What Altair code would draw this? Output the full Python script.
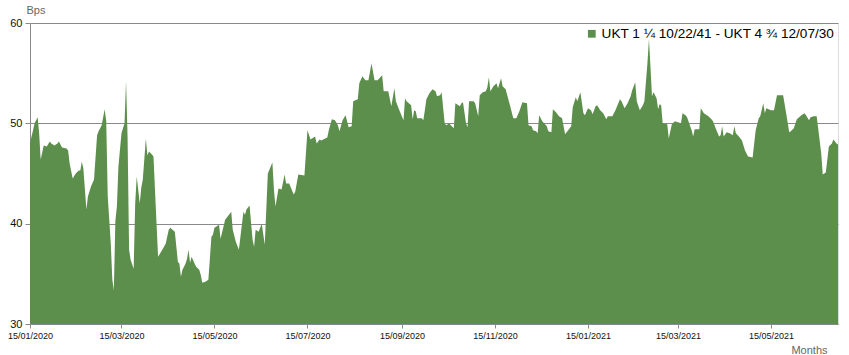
import altair as alt
import pandas as pd

series_name = "UKT 1 ¼ 10/22/41 - UKT 4 ¾ 12/07/30"

dates = [
    "2020-01-15", "2020-01-16", "2020-01-17", "2020-01-18", "2020-01-20", "2020-01-21", "2020-01-22", "2020-01-24",
    "2020-01-26", "2020-01-28", "2020-01-29", "2020-01-31", "2020-02-02", "2020-02-03", "2020-02-05", "2020-02-08",
    "2020-02-09", "2020-02-10", "2020-02-12", "2020-02-14", "2020-02-16", "2020-02-17", "2020-02-18", "2020-02-19",
    "2020-02-21", "2020-02-22", "2020-02-24", "2020-02-26", "2020-02-28", "2020-02-29", "2020-03-02", "2020-03-04",
    "2020-03-05", "2020-03-06", "2020-03-08", "2020-03-09", "2020-03-10", "2020-03-11", "2020-03-12", "2020-03-13",
    "2020-03-15", "2020-03-17", "2020-03-18", "2020-03-19", "2020-03-20", "2020-03-21", "2020-03-23", "2020-03-24",
    "2020-03-25", "2020-03-27", "2020-03-28", "2020-03-29", "2020-03-31", "2020-04-01", "2020-04-02", "2020-04-04",
    "2020-04-05", "2020-04-07", "2020-04-08", "2020-04-10", "2020-04-13", "2020-04-15", "2020-04-16", "2020-04-19",
    "2020-04-21", "2020-04-22", "2020-04-23", "2020-04-24", "2020-04-26", "2020-04-27", "2020-04-28", "2020-04-29",
    "2020-04-30", "2020-05-02", "2020-05-03", "2020-05-05", "2020-05-06", "2020-05-07", "2020-05-09", "2020-05-11",
    "2020-05-13", "2020-05-14", "2020-05-15", "2020-05-18", "2020-05-19", "2020-05-22", "2020-05-24", "2020-05-26",
    "2020-05-27", "2020-05-29", "2020-05-31", "2020-06-03", "2020-06-04", "2020-06-05", "2020-06-07", "2020-06-09",
    "2020-06-10", "2020-06-11", "2020-06-13", "2020-06-15", "2020-06-17", "2020-06-19", "2020-06-22", "2020-06-23",
    "2020-06-24", "2020-06-26", "2020-06-28", "2020-06-30", "2020-07-01", "2020-07-03", "2020-07-06", "2020-07-07",
    "2020-07-09", "2020-07-13", "2020-07-15", "2020-07-17", "2020-07-20", "2020-07-21", "2020-07-23", "2020-07-24",
    "2020-07-28", "2020-07-29", "2020-07-31", "2020-08-02", "2020-08-04", "2020-08-05", "2020-08-07", "2020-08-09",
    "2020-08-11", "2020-08-13", "2020-08-14", "2020-08-17", "2020-08-18", "2020-08-20", "2020-08-22", "2020-08-24",
    "2020-08-26", "2020-08-28", "2020-08-30", "2020-09-02", "2020-09-03", "2020-09-06", "2020-09-08", "2020-09-10",
    "2020-09-11", "2020-09-13", "2020-09-16", "2020-09-17", "2020-09-18", "2020-09-21", "2020-09-22", "2020-09-23",
    "2020-09-24", "2020-09-25", "2020-09-28", "2020-09-29", "2020-09-30", "2020-10-01", "2020-10-03", "2020-10-05",
    "2020-10-07", "2020-10-08", "2020-10-10", "2020-10-11", "2020-10-13", "2020-10-14", "2020-10-16", "2020-10-17",
    "2020-10-19", "2020-10-20", "2020-10-22", "2020-10-23", "2020-10-24", "2020-10-25", "2020-10-27", "2020-10-28",
    "2020-10-29", "2020-11-01", "2020-11-02", "2020-11-04", "2020-11-05", "2020-11-07", "2020-11-09", "2020-11-10",
    "2020-11-11", "2020-11-12", "2020-11-14", "2020-11-16", "2020-11-17", "2020-11-19", "2020-11-20", "2020-11-22",
    "2020-11-25", "2020-11-27", "2020-11-29", "2020-12-01", "2020-12-03", "2020-12-06", "2020-12-07", "2020-12-09",
    "2020-12-10", "2020-12-12", "2020-12-13", "2020-12-14", "2020-12-16", "2020-12-19", "2020-12-20", "2020-12-22",
    "2020-12-23", "2020-12-25", "2020-12-27", "2020-12-29", "2020-12-31", "2021-01-02", "2021-01-04", "2021-01-05",
    "2021-01-07", "2021-01-08", "2021-01-10", "2021-01-12", "2021-01-13", "2021-01-15", "2021-01-17", "2021-01-18",
    "2021-01-20", "2021-01-21", "2021-01-23", "2021-01-25", "2021-01-27", "2021-01-28", "2021-01-31", "2021-02-02",
    "2021-02-05", "2021-02-06", "2021-02-08", "2021-02-10", "2021-02-12", "2021-02-13", "2021-02-15", "2021-02-16",
    "2021-02-18", "2021-02-20", "2021-02-21", "2021-02-23", "2021-02-24", "2021-02-25", "2021-02-26", "2021-02-27",
    "2021-03-01", "2021-03-02", "2021-03-03", "2021-03-04", "2021-03-05", "2021-03-08", "2021-03-09", "2021-03-11",
    "2021-03-13", "2021-03-15", "2021-03-17", "2021-03-18", "2021-03-20", "2021-03-21", "2021-03-24", "2021-03-25",
    "2021-03-26", "2021-03-29", "2021-03-30", "2021-04-01", "2021-04-04", "2021-04-06", "2021-04-07", "2021-04-09",
    "2021-04-11", "2021-04-12", "2021-04-13", "2021-04-14", "2021-04-16", "2021-04-18", "2021-04-20", "2021-04-21",
    "2021-04-22", "2021-04-24", "2021-04-26", "2021-04-28", "2021-04-30", "2021-05-03", "2021-05-05", "2021-05-07",
    "2021-05-08", "2021-05-10", "2021-05-11", "2021-05-12", "2021-05-15", "2021-05-17", "2021-05-19", "2021-05-23",
    "2021-05-25", "2021-05-27", "2021-05-28", "2021-05-30", "2021-06-01", "2021-06-04", "2021-06-06", "2021-06-07",
    "2021-06-09", "2021-06-10", "2021-06-12", "2021-06-14", "2021-06-15", "2021-06-17", "2021-06-18", "2021-06-20",
    "2021-06-22", "2021-06-24", "2021-06-25", "2021-06-27", "2021-06-28",
]

bps = [
    48.0, 48.7, 49.3, 50.0, 50.6, 49.0, 46.4, 47.8,
    47.7, 48.2, 48.0, 47.8, 48.0, 48.2, 47.6, 47.5,
    47.3, 46.0, 44.5, 45.0, 45.3, 45.3, 46.2, 45.5,
    41.4, 42.7, 43.7, 44.4, 48.8, 49.2, 49.8, 51.4,
    50.2, 42.7, 38.0, 34.4, 33.4, 40.3, 41.7, 45.7,
    49.0, 50.0, 54.2, 48.7, 37.4, 36.4, 35.5, 42.0,
    44.7, 42.0, 43.6, 44.4, 48.5, 46.8, 47.2, 46.9,
    46.7, 40.0, 36.7, 37.2, 38.0, 39.4, 39.6, 39.2,
    36.2, 36.0, 34.7, 35.4, 36.0, 36.5, 37.4, 36.1,
    36.7, 36.0, 35.7, 35.4, 34.9, 34.1, 34.2, 34.4,
    38.7, 38.9, 39.6, 39.9, 38.5, 40.4, 40.8, 41.2,
    39.4, 38.2, 37.4, 41.2, 40.9, 41.4, 41.8, 38.4,
    37.7, 39.4, 39.2, 40.0, 37.9, 45.0, 46.1, 43.4,
    41.7, 43.5, 43.4, 44.9, 44.0, 44.0, 42.9, 43.2,
    44.9, 44.8, 49.3, 48.4, 48.7, 48.0, 48.4, 48.3,
    48.6, 49.3, 50.4, 50.3, 49.8, 49.2, 50.3, 50.8,
    49.6, 49.7, 52.2, 52.4, 54.0, 54.7, 54.3, 54.3,
    56.0, 54.3, 54.3, 54.8, 53.2, 53.2, 51.7, 53.5,
    52.2, 51.4, 50.3, 52.5, 52.2, 51.8, 50.4, 51.3,
    51.2, 50.5, 50.5, 50.3, 51.3, 52.4, 53.0, 53.4,
    53.2, 52.7, 52.8, 53.1, 50.0, 49.8, 50.0, 49.8,
    49.5, 52.0, 51.8, 51.7, 52.0, 52.1, 50.0, 49.6,
    52.2, 52.2, 52.0, 50.7, 52.8, 53.1, 53.2, 53.6,
    54.6, 53.2, 53.7, 54.0, 53.5, 54.5, 53.7, 53.4,
    51.7, 50.5, 50.5, 51.2, 52.1, 52.0, 49.8, 49.7,
    49.3, 49.2, 49.0, 50.8, 50.2, 49.7, 49.2, 49.1,
    51.4, 51.1, 50.7, 50.5, 48.9, 49.3, 49.7, 51.6,
    52.6, 52.2, 53.1, 51.0, 50.8, 51.5, 51.3, 50.9,
    51.7, 51.8, 51.3, 51.0, 50.4, 50.7, 50.7, 51.3,
    52.4, 52.2, 51.5, 52.0, 52.7, 53.3, 54.1, 52.2,
    51.3, 51.8, 52.2, 56.0, 58.4, 55.6, 52.7, 53.1,
    52.5, 51.4, 51.9, 51.8, 50.0, 49.9, 48.5, 49.9,
    50.2, 50.1, 50.0, 51.0, 50.8, 50.6, 49.3, 48.7,
    49.4, 49.4, 51.5, 51.0, 50.7, 50.4, 50.2, 49.4,
    48.7, 48.8, 49.7, 48.7, 49.1, 49.0, 48.8, 49.7,
    49.0, 48.7, 48.3, 47.3, 46.7, 46.6, 49.3, 50.5,
    50.7, 52.0, 51.0, 51.5, 51.3, 51.3, 52.8, 52.8,
    51.0, 49.1, 49.2, 49.5, 50.4, 50.8, 51.0, 50.8,
    50.3, 50.6, 50.7, 50.7, 49.5, 47.0, 44.9, 45.1,
    47.7, 48.0, 48.4, 48.0, 47.9,
]

tick_dates = [(2020, 1), (2020, 3), (2020, 5), (2020, 7), (2020, 9), (2020, 11),
              (2021, 1), (2021, 3), (2021, 5)]
y_ticks = [30, 40, 50, 60]

df = pd.DataFrame({"date": dates, "bps": bps, "series": series_name})

FONT = "Liberation Sans"
GREEN = "#5c8f4b"
GRID = "#8a8a8a"

x_enc = alt.X(
    "date:T",
    scale=alt.Scale(type="utc", nice=False,
                    domain=[alt.DateTime(year=2020, month=1, date=15, utc=True),
                            alt.DateTime(year=2021, month=6, date=28, utc=True)]),
    axis=alt.Axis(
        values=[alt.DateTime(year=y, month=m, date=15, utc=True) for y, m in tick_dates],
        labelExpr="utcFormat(datum.value, '%d/%m/%Y')",
        labelFont=FONT, labelFontSize=9, labelColor="#111111", labelPadding=3,
        labelFlush=False, labelOverlap=False,
        tickSize=4, tickColor=GRID, domainColor=GRID, grid=False,
        title="Months", titleFont=FONT, titleFontSize=11, titleFontWeight="normal",
        titleColor="#666666", titleAnchor="end", titleAlign="right",
        titleX=797, titleY=29, titleBaseline="alphabetic",
    ),
)

y_enc = alt.Y(
    "bps:Q",
    scale=alt.Scale(domain=[30, 60], nice=False, zero=False),
    axis=alt.Axis(
        values=y_ticks, labelFont=FONT, labelFontSize=11, labelColor="#111111",
        labelPadding=3, tickSize=5, tickColor=GRID, domainColor=GRID,
        grid=True, gridColor=GRID, gridWidth=1,
        title="Bps", titleFont=FONT, titleFontSize=11, titleFontWeight="normal",
        titleColor="#666666", titleAngle=0, titleAlign="left", titleBaseline="alphabetic",
        titleX=-4, titleY=-10,
    ),
)

chart = alt.Chart(df).mark_area(interpolate="linear", opacity=1, clip=True).encode(
    x=x_enc,
    y=y_enc,
    color=alt.Color(
        "series:N",
        scale=alt.Scale(domain=[series_name], range=[GREEN]),
        legend=alt.Legend(
            title=None, orient="none", legendX=555, legendY=4,
            symbolType="square", symbolSize=60, symbolStrokeWidth=0,
            labelFont=FONT, labelFontSize=13.6, labelColor="#000000",
            labelOffset=3, labelLimit=400, padding=0,
        ),
    ),
).properties(
    width=808, height=301,
    autosize=alt.AutoSizeParams(type="none"),
    padding={"left": 30, "top": 23, "right": 11, "bottom": 31},
).configure_view(stroke=None).configure(background="white")

chart.save("out.html", embed_options={"renderer": "svg", "actions": False})
